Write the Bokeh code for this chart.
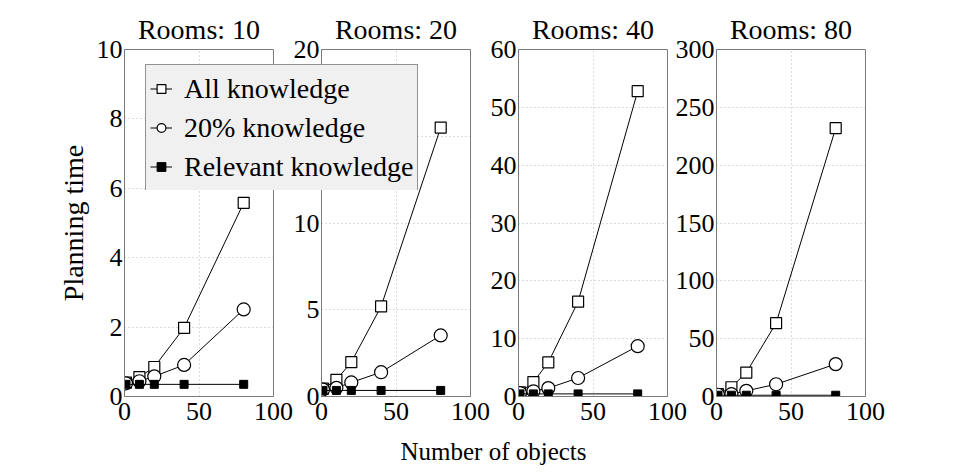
from bokeh.plotting import figure
from bokeh.models import Range1d, FixedTicker, Legend, LegendItem, Label
from bokeh.layouts import row, column
from bokeh.embed import file_html
from bokeh.resources import INLINE

# ---------------- data ----------------
objects = [1, 10, 20, 40, 80]
rooms = [10, 20, 40, 80]
y_max = [10, 20, 60, 300]
y_step = [2, 5, 10, 50]
x_ticks = [0, 50, 100]

all_knowledge = [
    [0.40, 0.56, 0.85, 1.98, 5.58],
    [0.45, 0.96, 1.98, 5.19, 15.5],
    [0.70, 2.5, 5.9, 16.4, 52.8],
    [2.0, 8.0, 20.7, 63.4, 232.0],
]
twenty_knowledge = [
    [0.38, 0.44, 0.58, 0.91, 2.51],
    [0.40, 0.50, 0.81, 1.40, 3.52],
    [0.60, 0.90, 1.45, 3.2, 8.7],
    [1.5, 2.0, 4.9, 10.6, 28.0],
]
relevant_knowledge = [
    [0.35, 0.35, 0.35, 0.35, 0.35],
    [0.35, 0.35, 0.35, 0.35, 0.35],
    [0.45, 0.45, 0.45, 0.45, 0.45],
    [1.1, 1.1, 1.1, 1.1, 1.1],
]
series_labels = ["All knowledge", "20% knowledge", "Relevant knowledge"]

FONT = "Liberation Serif"
FRAME_COL = "#7a7a7a"

border_left = [124, 180, 60, 60]
margin_left = [0, -162, -42, -41]


def add_series(p, i):
    l0 = p.line(objects, all_knowledge[i], line_color="black", line_width=1)
    s0 = p.scatter(objects, all_knowledge[i], marker="square", size=11,
                   fill_color="white", line_color="black", line_width=1.2)
    l1 = p.line(objects, twenty_knowledge[i], line_color="black", line_width=1)
    s1 = p.scatter(objects, twenty_knowledge[i], marker="circle", size=13,
                   fill_color="white", line_color="black", line_width=1.2)
    l2 = p.line(objects, relevant_knowledge[i], line_color="black", line_width=1)
    s2 = p.scatter(objects, relevant_knowledge[i], marker="square", size=8,
                   fill_color="black", line_color="black", line_width=1)
    return [(l0, s0), (l1, s1), (l2, s2)]


panels = []
for i in range(4):
    p = figure(frame_width=149, frame_height=347,
               x_range=Range1d(0, 100), y_range=Range1d(0, y_max[i]),
               output_backend="svg", toolbar_location=None,
               min_border_left=border_left[i], min_border_right=30,
               min_border_top=49, min_border_bottom=40,
               border_fill_color=None, background_fill_color="white",
               outline_line_color=FRAME_COL, outline_line_width=1,
               title=f"Rooms: {rooms[i]}")
    p.margin = (0, 0, 0, margin_left[i])
    p.title.text_font = FONT
    p.title.text_font_size = "28px"
    p.title.text_font_style = "normal"
    p.title.text_color = "black"
    p.title.align = "center"
    p.title.standoff = 10

    p.xaxis.ticker = FixedTicker(ticks=x_ticks)
    p.yaxis.ticker = FixedTicker(ticks=list(range(0, y_max[i] + 1, y_step[i])))
    for ax in (p.xaxis, p.yaxis):
        ax.major_label_text_font = FONT
        ax.major_label_text_font_size = "26px"
        ax.major_label_text_color = "black"
        ax.major_tick_out = 0
        ax.major_tick_in = 0
        ax.minor_tick_out = 0
        ax.minor_tick_in = 0
        ax.axis_line_color = FRAME_COL
    p.xaxis.major_label_standoff = 6
    p.yaxis.major_label_standoff = 2

    p.grid.grid_line_color = "#b8b8b8"
    p.grid.grid_line_dash = "1 3"
    p.grid.grid_line_width = 1

    if i == 0:
        p.yaxis.axis_label = "Planning time"
        p.yaxis.axis_label_text_font = FONT
        p.yaxis.axis_label_text_font_size = "28px"
        p.yaxis.axis_label_text_font_style = "normal"
        p.yaxis.axis_label_text_color = "black"
        p.yaxis.axis_label_standoff = 5

    add_series(p, i)
    panels.append(p)

# legend holder, overlapping panels 1 and 2 (drawn on top)
leg_fig = figure(frame_width=278, frame_height=128,
                 x_range=Range1d(200, 300), y_range=Range1d(200, 300),
                 output_backend="svg", toolbar_location=None, min_border=0,
                 outline_line_color=None, border_fill_color=None,
                 background_fill_color=None)
leg_fig.axis.visible = False
leg_fig.grid.visible = False
leg_fig.margin = (62, 0, 0, -752)
pairs = add_series(leg_fig, 0)
legend = Legend(items=[LegendItem(label=series_labels[k], renderers=list(pairs[k]))
                       for k in range(3)],
                location="top_left")
legend.label_text_font = FONT
legend.label_text_font_size = "28px"
legend.label_text_color = "black"
legend.background_fill_color = "#f0f0f0"
legend.background_fill_alpha = 1.0
legend.border_line_color = "#333333"
legend.border_line_width = 1
legend.padding = 4
legend.margin = 2
legend.spacing = 0
legend.glyph_width = 22
legend.glyph_height = 39
legend.label_height = 39
legend.label_standoff = 12
leg_fig.add_layout(legend)

# shared x-axis label strip
strip = figure(frame_width=947, frame_height=30, x_range=Range1d(0, 947), y_range=Range1d(0, 1),
               output_backend="svg", toolbar_location=None, min_border=0,
               outline_line_color=None, border_fill_color=None, background_fill_color=None)
strip.axis.visible = False
strip.grid.visible = False
strip.add_layout(Label(x=493, y=0.5, text="Number of objects", text_align="center",
                       text_baseline="middle", text_font=FONT, text_font_size="25px",
                       text_color="black"))

layout = column(row(*panels, leg_fig), strip)
open("out.html", "w").write(file_html(layout, INLINE))
